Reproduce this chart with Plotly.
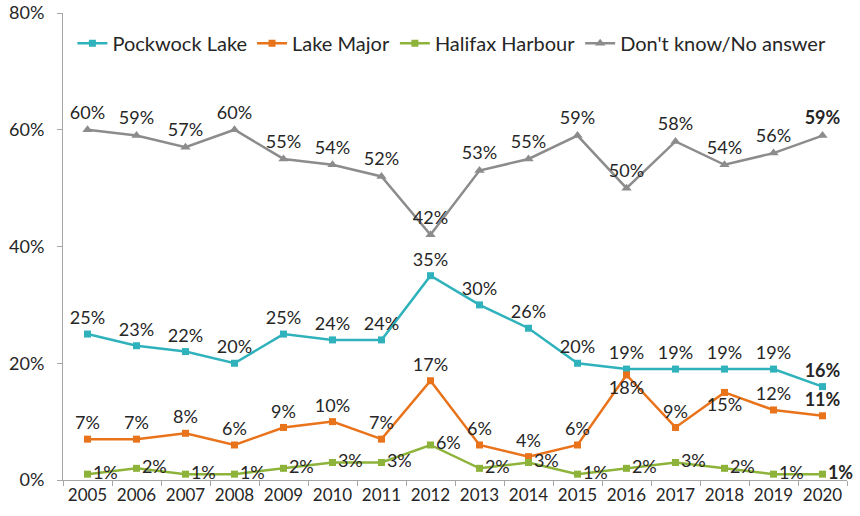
import plotly.graph_objects as go

years = [str(y) for y in range(2005, 2021)]
pockwock = [25, 23, 22, 20, 25, 24, 24, 35, 30, 26, 20, 19, 19, 19, 19, 16]
lake_major = [7, 7, 8, 6, 9, 10, 7, 17, 6, 4, 6, 18, 9, 15, 12, 11]
halifax = [1, 2, 1, 1, 2, 3, 3, 6, 2, 3, 1, 2, 3, 2, 1, 1]
dont_know = [60, 59, 57, 60, 55, 54, 52, 42, 53, 55, 59, 50, 58, 54, 56, 59]

series_names = ["Pockwock Lake", "Lake Major", "Halifax Harbour", "Don't know/No answer"]
colors = ["#2FB2BB", "#E8731B", "#8DB33A", "#8C8C8C"]

FONT = "Lato, Carlito, Calibri, sans-serif"
TEXT_COLOR = "#262626"


def labels(vals):
    out = [f"{v}%" for v in vals]
    out[-1] = f"<b>{vals[-1]}%</b>"
    return out


# Lake Major labels sit below the point where the line peaks sharply
lm_pos = ["top center"] * len(lake_major)
lm_pos[11] = "bottom center"
lm_pos[13] = "bottom center"

fig = go.Figure()

specs = [
    (pockwock, "square", 7, "top center"),
    (lake_major, "square", 7, lm_pos),
    (halifax, "square", 7, "middle right"),
    (dont_know, "triangle-up", 9, "top center"),
]

for (vals, sym, size, pos), name, col in zip(specs, series_names, colors):
    fig.add_trace(go.Scatter(
        x=years, y=vals, name=name,
        mode="lines+markers+text",
        line=dict(color=col, width=2.5),
        marker=dict(symbol=sym, size=size, color=col),
        text=labels(vals), textposition=pos,
        textfont=dict(family=FONT, size=18, color=TEXT_COLOR),
        cliponaxis=False,
    ))

fig.update_layout(
    width=860, height=516,
    margin=dict(l=63, r=13, t=13, b=36),
    paper_bgcolor="white", plot_bgcolor="white",
    font=dict(family=FONT, size=18, color=TEXT_COLOR),
    showlegend=True,
    legend=dict(
        orientation="h", x=0.012, y=0.935, xanchor="left", yanchor="middle",
        bgcolor="rgba(0,0,0,0)", font=dict(size=20, color=TEXT_COLOR),
        itemwidth=30, tracegroupgap=0,
    ),
    xaxis=dict(
        type="category", range=[-0.5, 15.5], automargin=False,
        showline=True, linecolor="#A6A6A6", linewidth=1,
        ticks="outside", tickson="boundaries", ticklen=5, tickcolor="#A6A6A6",
        showgrid=False, zeroline=False, tickangle=0,
        tickfont=dict(size=17, color=TEXT_COLOR),
    ),
    yaxis=dict(
        range=[0, 80], tickvals=[0, 20, 40, 60, 80], automargin=False,
        ticktext=["0%", "20%", "40%", "60%", "80%"],
        showline=True, linecolor="#A6A6A6", linewidth=1,
        ticks="outside", ticklen=5, tickcolor="#A6A6A6",
        ticklabelstandoff=9,
        showgrid=False, zeroline=False,
        tickfont=dict(size=18, color=TEXT_COLOR),
    ),
)

fig.write_html("out.html")
